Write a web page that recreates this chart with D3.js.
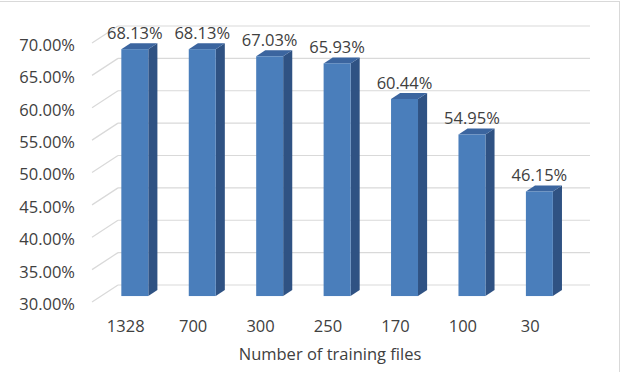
<!DOCTYPE html>
<html>
<head>
<meta charset="utf-8">
<script src="https://cdn.jsdelivr.net/npm/d3@7"></script>
<style>
  body { margin: 0; background: #fff; }
  text { font-family: "Open Sans", sans-serif; fill: #404040; }
</style>
</head>
<body>
<div id="container"></div>
<script>
/* DATA */
const categories = ["1328", "700", "300", "250", "170", "100", "30"];
const accuracy = [68.13, 68.13, 67.03, 65.93, 60.44, 54.95, 46.15];
const yTicks = [30, 35, 40, 45, 50, 55, 60, 65, 70];
const xTitle = "Number of training files";

/* CONSTANTS */
const width = 624, height = 372;
const back = { left: 118, right: 590, top: 26, bottom: 285 }; // back wall plane
const depth = { dx: -26, dy: 17 };   // back wall -> front of floor
const barFront = 0.65, barBack = 0.3; // bar depth, as fraction of depth
const fontSize = 16.5;

/* SCALES (back wall plane) */
const xScale = d3.scaleBand()
  .domain(categories)
  .range([back.left, back.right])
  .paddingInner(0.6)
  .paddingOuter(0.3);

const yScale = d3.scaleLinear()
  .domain([30, 70])
  .range([back.bottom, back.top]);

/* SVG */
const svg = d3.select("#container")
  .append("svg")
  .attr("width", width)
  .attr("height", height);

// chart border
svg.append("rect")
  .attr("x", -1).attr("y", 1.5)
  .attr("width", 620.5).attr("height", 400)
  .attr("fill", "none")
  .attr("stroke", "#d9d9d9");

// gridlines: back wall + side wall diagonal
const grid = svg.append("g").attr("stroke", "#d9d9d9").attr("stroke-width", 1.2);
grid.selectAll("line.back")
  .data(yTicks)
  .join("line")
  .attr("class", "back")
  .attr("x1", back.left).attr("x2", back.right)
  .attr("y1", d => yScale(d)).attr("y2", d => yScale(d));
grid.selectAll("line.side")
  .data(yTicks)
  .join("line")
  .attr("class", "side")
  .attr("x1", back.left).attr("y1", d => yScale(d))
  .attr("x2", back.left + depth.dx).attr("y2", d => yScale(d) + depth.dy);

// y axis (front plane)
const yAxis = d3.axisLeft(yScale)
  .tickValues(yTicks)
  .tickSize(0)
  .tickPadding(17)
  .tickFormat(d => d.toFixed(2) + "%");
svg.append("g")
  .attr("transform", `translate(${back.left + depth.dx},${depth.dy})`)
  .call(yAxis)
  .call(g => g.select(".domain").remove())
  .selectAll("text")
  .attr("dy", "0.45em")
  .style("font-size", fontSize + "px")
  .style("font-family", "'Open Sans', sans-serif")
  .attr("fill", "#404040");

// x axis (front plane)
const xAxis = d3.axisBottom(xScale).tickSize(0).tickPadding(18);
svg.append("g")
  .attr("transform", `translate(${depth.dx},${back.bottom + depth.dy})`)
  .call(xAxis)
  .call(g => g.select(".domain").remove())
  .selectAll("text")
  .style("font-size", fontSize + "px")
  .style("font-family", "'Open Sans', sans-serif")
  .attr("fill", "#404040");

// bars
const fx = depth.dx * barFront, fy = depth.dy * barFront;
const sx = depth.dx * (barFront - barBack), sy = depth.dy * (barFront - barBack);
const bars = svg.selectAll("g.bar")
  .data(categories.map((c, i) => ({ c, v: accuracy[i] })))
  .join("g")
  .attr("class", "bar");

const geo = d => {
  const x0 = xScale(d.c) + fx, x1 = x0 + xScale.bandwidth();
  const yT = yScale(d.v) + fy, yB = yScale(30) + fy;
  return { x0, x1, yT, yB };
};

bars.append("polygon") // side
  .attr("points", d => { const g = geo(d);
    return [[g.x1, g.yT], [g.x1 - sx, g.yT - sy], [g.x1 - sx, g.yB - sy], [g.x1, g.yB]].join(" "); })
  .attr("fill", "#2f5283");
bars.append("polygon") // top
  .attr("points", d => { const g = geo(d);
    return [[g.x0, g.yT], [g.x0 - sx, g.yT - sy], [g.x1 - sx, g.yT - sy], [g.x1, g.yT]].join(" "); })
  .attr("fill", "#3b659f");
bars.append("rect") // front
  .attr("x", d => geo(d).x0)
  .attr("y", d => geo(d).yT)
  .attr("width", xScale.bandwidth())
  .attr("height", d => geo(d).yB - geo(d).yT)
  .attr("fill", "#4a7ebb");

// value labels
bars.append("text")
  .attr("x", d => geo(d).x0 + xScale.bandwidth() / 2)
  .attr("y", d => geo(d).yT - 10)
  .attr("text-anchor", "middle")
  .style("font-size", fontSize + "px")
  .text(d => d.v.toFixed(2) + "%");

// axis title
svg.append("text")
  .attr("x", 330)
  .attr("y", 360)
  .attr("text-anchor", "middle")
  .style("font-size", fontSize + "px")
  .text(xTitle);
</script>
</body>
</html>
